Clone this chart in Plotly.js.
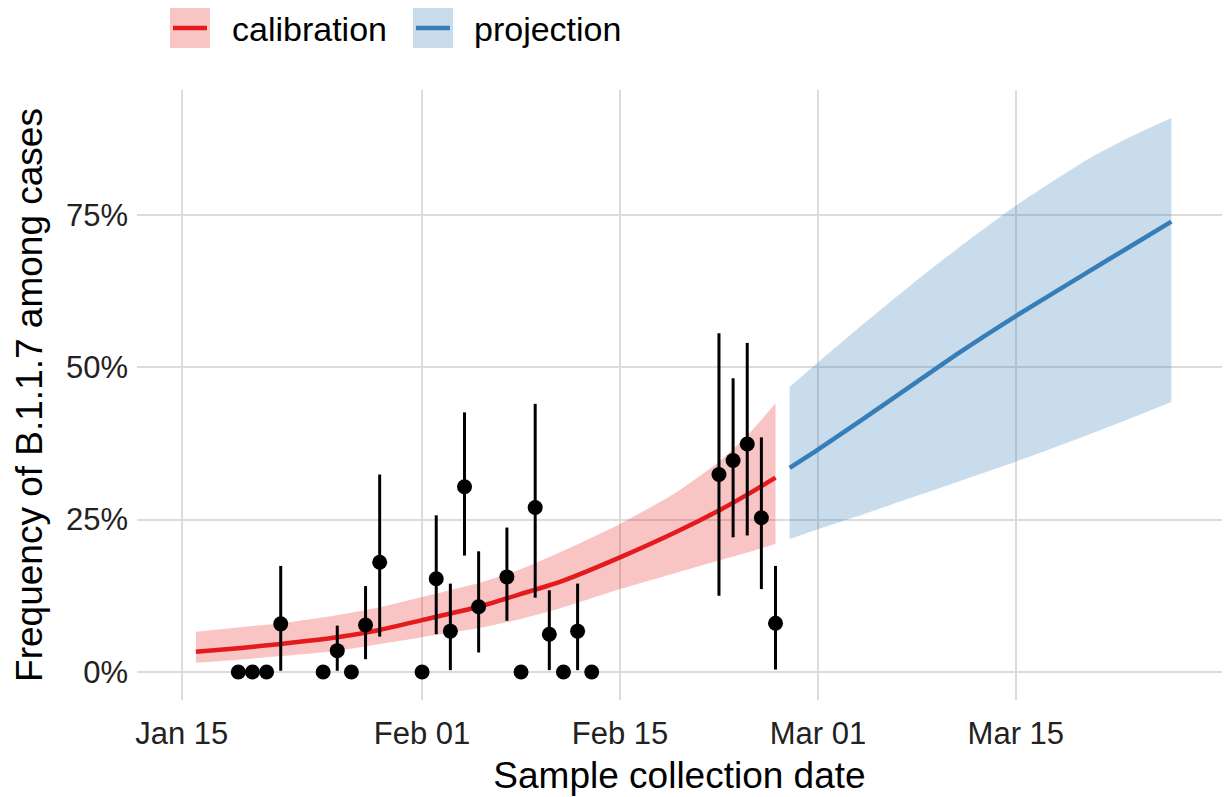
<!DOCTYPE html>
<html>
<head>
<meta charset="utf-8">
<script src="https://cdn.plot.ly/plotly-3.0.1.min.js"></script>
<style>html,body{margin:0;padding:0;background:#fff;}#chart{width:1225px;height:797px;}</style>
</head>
<body>
<div id="chart"></div>
<script>
// ---- data ----
var calDates = ['2021-01-16','2021-01-19','2021-01-22','2021-01-26','2021-01-29','2021-02-01','2021-02-05','2021-02-08','2021-02-11','2021-02-15','2021-02-19','2021-02-22','2021-02-24','2021-02-26'];
var calMid = [3.3,3.9,4.6,5.7,6.9,8.5,10.7,12.8,15.0,18.8,23.0,26.5,29.1,31.9];
var calHi  = [6.6,7.3,8.0,9.3,10.6,12.3,14.6,16.9,19.9,24.3,29.5,34.5,38.8,44.1];
var calLo  = [1.5,2.0,2.6,3.5,4.6,5.7,7.2,8.7,10.6,13.6,16.3,18.3,19.6,21.0];

var projDates = ['2021-02-27','2021-03-01','2021-03-04','2021-03-08','2021-03-11','2021-03-15','2021-03-20','2021-03-23','2021-03-26'];
var projMid = [33.5,36.5,41.2,47.6,52.4,58.4,65.5,69.7,73.9];
var projHi  = [46.8,50.8,56.7,64.3,69.7,76.5,84.0,87.7,90.9];
var projLo  = [21.8,23.4,25.7,28.9,31.3,34.5,38.8,41.5,44.3];

var obsDates = ['2021-01-19','2021-01-20','2021-01-21','2021-01-22','2021-01-25','2021-01-26','2021-01-27','2021-01-28','2021-01-29','2021-02-01','2021-02-02','2021-02-03','2021-02-04','2021-02-05','2021-02-07','2021-02-08','2021-02-09','2021-02-10','2021-02-11','2021-02-12','2021-02-13','2021-02-22','2021-02-23','2021-02-24','2021-02-25','2021-02-26'];
var obsFreq = [0,0,0,7.9,0,3.5,0,7.7,18.0,0,15.3,6.7,30.4,10.7,15.6,0,27.0,6.2,0,6.7,0,32.4,34.7,37.4,25.3,8.0];
var obsLo   = [0,0,0,0.2,0,0.2,0,2.1,5.8,0,6.2,0.3,19.1,3.2,8.4,0,12.2,0.3,0,0.3,0,12.5,22.1,22.4,13.6,0.4];
var obsHi   = [0,0,0,17.4,0,7.6,0,14.1,32.4,0,25.7,14.5,42.6,19.8,23.7,0,44.0,13.4,0,14.5,0,55.6,48.2,54.0,38.5,17.4];

var xTickVals = ['2021-01-15','2021-02-01','2021-02-15','2021-03-01','2021-03-15'];
var xTickText = ['Jan 15','Feb 01','Feb 15','Mar 01','Mar 15'];
var yTickVals = [0,25,50,75];
var yTickText = ['0%','25%','50%','75%'];
var seriesNames = ['calibration','projection'];

// ---- styling ----
var RED = '#E41A1C', BLUE = '#377EB8';
var RED_FILL = 'rgba(228,26,28,0.26)', BLUE_FILL = 'rgba(55,126,184,0.27)';
var FONT = 'Liberation Sans, Arial, Helvetica, sans-serif';

function bandTraces(x, hi, lo, fill) {
  return [
    {x: x, y: hi, type: 'scatter', mode: 'lines',
     line: {width: 0, color: 'rgba(0,0,0,0)', shape: 'spline', smoothing: 0.6},
     hoverinfo: 'skip', showlegend: false},
    {x: x, y: lo, type: 'scatter', mode: 'lines', fill: 'tonexty', fillcolor: fill,
     line: {width: 0, color: 'rgba(0,0,0,0)', shape: 'spline', smoothing: 0.6},
     hoverinfo: 'skip', showlegend: false}
  ];
}

var traces = [].concat(
  bandTraces(calDates, calHi, calLo, RED_FILL),
  bandTraces(projDates, projHi, projLo, BLUE_FILL),
  [
  {x: calDates, y: calMid, type: 'scatter', mode: 'lines', name: seriesNames[0],
   line: {color: RED, width: 4.5, shape: 'spline', smoothing: 0.6}, showlegend: false},
  {x: projDates, y: projMid, type: 'scatter', mode: 'lines', name: seriesNames[1],
   line: {color: BLUE, width: 4.5, shape: 'spline', smoothing: 0.6}, showlegend: false},
  {x: obsDates, y: obsFreq, type: 'scatter', mode: 'markers', name: 'observed',
   marker: {color: '#000', size: 15},
   error_y: {type: 'data', symmetric: false,
     array: obsHi.map(function(h, i){ return h - obsFreq[i]; }),
     arrayminus: obsLo.map(function(l, i){ return obsFreq[i] - l; }),
     thickness: 3, width: 0, color: '#000'},
   showlegend: false}
  ]
);

// panel in pixels: left 137, right 1222, top 90, bottom 700
var PL = 137, PR = 1222, PT = 90, PB = 700;
function px(x){ return (x - PL) / (PR - PL); }
function py(y){ return (PB - y) / (PB - PT); }

var shapes = [
  {type:'rect', xref:'paper', yref:'paper', x0:px(170), x1:px(210), y0:py(48), y1:py(8), fillcolor:RED_FILL, line:{width:0}},
  {type:'line', xref:'paper', yref:'paper', x0:px(173), x1:px(207), y0:py(28), y1:py(28), line:{color:RED, width:4.5}},
  {type:'rect', xref:'paper', yref:'paper', x0:px(413), x1:px(453), y0:py(48), y1:py(8), fillcolor:BLUE_FILL, line:{width:0}},
  {type:'line', xref:'paper', yref:'paper', x0:px(416), x1:px(450), y0:py(28), y1:py(28), line:{color:BLUE, width:4.5}}
];
var annotations = [
  {xref:'paper', yref:'paper', x:px(230), y:py(29), text:seriesNames[0], showarrow:false, xanchor:'left', yanchor:'middle', font:{size:34, color:'#000', family:FONT}},
  {xref:'paper', yref:'paper', x:px(472), y:py(29), text:seriesNames[1], showarrow:false, xanchor:'left', yanchor:'middle', font:{size:34, color:'#000', family:FONT}}
];

var layout = {
  width: 1225, height: 797,
  margin: {l: PL, r: 1225 - PR, t: PT, b: 797 - PB, pad: 0},
  paper_bgcolor: '#fff', plot_bgcolor: '#fff',
  showlegend: false,
  font: {family: FONT, size: 31, color: '#222'},
  xaxis: {
    type: 'date', range: ['2021-01-11 20:00', '2021-03-29 14:00'],
    tickmode: 'array', tickvals: xTickVals, ticktext: xTickText,
    showgrid: true, gridcolor: '#DCDCDC', gridwidth: 2,
    zeroline: false, showline: false, ticks: '',
    ticklabelstandoff: 12,
    tickfont: {size: 31, color: '#222'},
    title: {text: 'Sample collection date', font: {size: 37, color: '#000'}, standoff: 12}
  },
  yaxis: {
    range: [-4.6, 95.5],
    tickmode: 'array', tickvals: yTickVals, ticktext: yTickText,
    showgrid: true, gridcolor: '#DCDCDC', gridwidth: 2,
    zeroline: false, showline: false, ticks: '',
    ticklabelstandoff: 8,
    tickfont: {size: 31, color: '#222'},
    title: {text: 'Frequency of B.1.1.7 among cases', font: {size: 37, color: '#000'}, standoff: 12}
  },
  shapes: shapes,
  annotations: annotations
};

Plotly.newPlot('chart', traces, layout, {displayModeBar: false, staticPlot: true});
</script>
</body>
</html>
